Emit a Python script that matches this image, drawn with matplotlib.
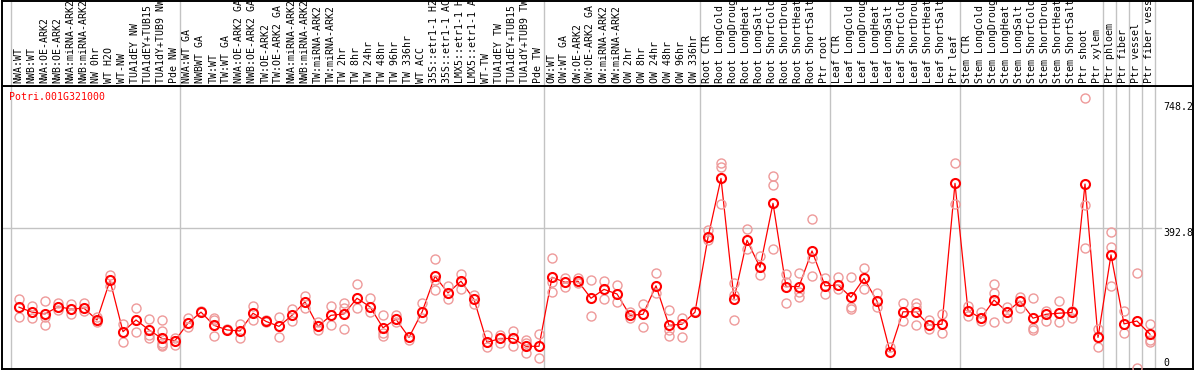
import matplotlib
matplotlib.use("Agg")
import matplotlib.pyplot as plt

gene = "Potri.001G321000"

samples = [
    "NWA:WT", "NWB:WT", "NWA:OE-ARK2", "NWB:OE-ARK2", "NWA:miRNA-ARK2", "NWB:miRNA-ARK2",
    "NW 0hr", "WT H2O", "WT-NW", "TUA1dEY NW", "TUA1dEY+TUB15 NW", "TUA1dY+TUB9 NW", "Pde NW",
    "NWA:WT GA", "NWBWT GA", "TW:WT", "TW:WT GA", "NWA:OE-ARK2 GA", "NWB:OE-ARK2 GA",
    "TW:OE-ARK2", "TW:OE-ARK2 GA", "NWA:miRNA-ARK2", "NWB:miRNA-ARK2", "TW:miRNA-ARK2",
    "TW:miRNA-ARK2", "TW 2hr", "TW 8hr", "TW 24hr", "TW 48hr", "TW 96hr", "TW 336hr", "WT ACC",
    "35S::etr1-1 H2O", "35S::etr1-1 ACC", "LMX5::etr1-1 H2O", "LMX5::etr1-1 ACC", "WT-TW",
    "TUA1dEY TW", "TUA1dEY+TUB15 TW", "TUA1dY+TUB9 TW", "Pde TW",
    "OW:WT", "OW:WT GA", "OW:OE-ARK2", "OW:OE-ARK2 GA", "OW:miRNA-ARK2", "OW:miRNA-ARK2",
    "OW 2hr", "OW 8hr", "OW 24hr", "OW 48hr", "OW 96hr", "OW 336hr",
    "Root CTR", "Root LongCold", "Root LongDrought", "Root LongHeat", "Root LongSalt",
    "Root ShortCold", "Root ShortDrought", "Root ShortHeat", "Root ShortSalt", "Ptr root",
    "Leaf CTR", "Leaf LongCold", "Leaf LongDrought", "Leaf LongHeat", "Leaf LongSalt",
    "Leaf ShortCold", "Leaf ShortDrought", "Leaf ShortHeat", "Leaf ShortSalt", "Ptr leaf",
    "Stem CTR", "Stem LongCold", "Stem LongDrought", "Stem LongHeat", "Stem LongSalt",
    "Stem ShortCold", "Stem ShortDrought", "Stem ShortHeat", "Stem ShortSalt", "Ptr shoot",
    "Ptr xylem", "Ptr phloem", "Ptr fiber", "Ptr vessel", "Ptr fiber vessel",
]

# first sample index of each group (separator lines)
group_starts = [0, 13, 41, 53, 63, 73, 84, 85, 86, 87, 88]

means = [
    171, 157, 152, 172, 166, 168, 135, 246, 102, 135, 107, 83, 77,
    126, 157, 120, 107, 104, 154, 131, 117, 148, 186, 117, 148, 152, 196, 172, 113, 137, 86,
    157, 258, 211, 244, 193, 72, 83, 83, 61, 61,
    255, 241, 244, 196, 221, 208, 148, 151, 231, 120, 123, 157,
    367, 533, 194, 359, 283, 463, 229, 229, 329, 231,
    233, 199, 252, 188, 46, 158, 158, 121, 123, 519,
    161, 140, 191, 158, 188, 140, 151, 154, 156, 517, 86,
    318, 124, 132, 95,
]

replicates = [
    [193, 144], [174, 141], [188, 144, 120], [184, 163], [181, 153], [184, 161],
    [144, 128], [262, 231], [124, 72], [168, 100], [137, 93, 83], [135, 104, 70, 65, 62],
    [83, 65],
    [140, 114], [160], [141, 134, 91], [110], [124, 85], [174, 135], [135, 128], [144, 86],
    [166, 131], [201, 169], [128, 107], [173, 120], [184, 168, 110], [235, 168], [196, 157],
    [148, 97, 91], [149, 128], [79], [182, 141], [306, 247, 218], [230, 195], [263, 221],
    [205, 179], [92, 60], [93, 69], [105, 61], [79, 69, 41], [95, 28],
    [309, 243, 215], [252, 229], [252, 238], [247, 145], [245, 195], [233, 185], [158, 140],
    [179, 114], [266, 210], [163, 107, 91], [141, 86], [161],
    [388, 360], [577, 566, 460], [240, 205, 135], [390, 334], [315, 262], [540, 514, 335],
    [264, 243, 182], [266, 215, 199], [418, 310, 259], [252, 207],
    [257, 222], [255, 172, 167], [282, 221], [210, 172], [60], [184, 133], [184, 171, 120],
    [135, 110], [152, 98], [576, 461],
    [174, 147], [158, 133], [236, 212, 128], [171, 140], [199, 168], [196, 113, 107],
    [161, 133], [188, 128], [161, 140], [758, 458, 337], [109, 60],
    [382, 341, 231], [161, 99], [268, 0], [124, 80, 74],
]

y_ticks = [0, 392.8, 748.2]

W, H = 1194, 370
mono = "DejaVu Sans Mono"
grey = "#c3c3c3"


def rect(x0, y0, x1, y1):
    return [x0 / W, 1 - y1 / H, (x1 - x0) / W, (y1 - y0) / H]


fig = plt.figure(figsize=(W / 100, H / 100), dpi=100)
ax = fig.add_axes(rect(1.5, 85.5, 1193, 369))
hx = fig.add_axes(rect(1.5, 0.8, 1193, 85.5), sharex=ax)

# sample k sits at pixel 19 + 13k
ax.set_xlim((1.5 - 19) / 13, (1193 - 19) / 13)
ax.set_ylim(-2.8, 794)
hx.set_ylim(0, 1)

for a in (ax, hx):
    a.set_xticks([])
    a.set_yticks([])
    for s in a.spines.values():
        s.set_linewidth(1.4)
        s.set_color("black")
    for b in group_starts:
        a.axvline(b - 0.64, color=grey, lw=1.0, zorder=0)

ax.axhline(392.8, xmin=0, xmax=(1161 - 1.5) / 1191.5, color=grey, lw=1.0, zorder=0)

x = list(range(len(samples)))
ax.plot(x, means, color="red", lw=0.9, zorder=2)
for k, reps in enumerate(replicates):
    ax.plot([k] * len(reps), reps, "o", ms=6.5, mfc="none", mec="#ee9a9a",
            mew=1.0, zorder=3, clip_on=True)
ax.plot(x, means, "o", ms=6.5, mfc="none", mec="red", mew=1.5, zorder=4)

for k, name in enumerate(samples):
    hx.text(k - 0.05, 0.03, name, rotation=90, ha="center", va="bottom",
            family=mono, fontsize=7.1, color="black")

ax.text(0.0065, 0.961, gene, transform=ax.transAxes, ha="left", va="center",
        family=mono, fontsize=7.1, color="red")

ytr = ax.get_yaxis_transform()
for v in y_ticks:
    ax.text(0.9748, v, "{:g}".format(v), transform=ytr, ha="left",
            va="bottom" if v == 0 else "top", family=mono, fontsize=7.1,
            color="black")

fig.savefig("out.png", dpi=100)
